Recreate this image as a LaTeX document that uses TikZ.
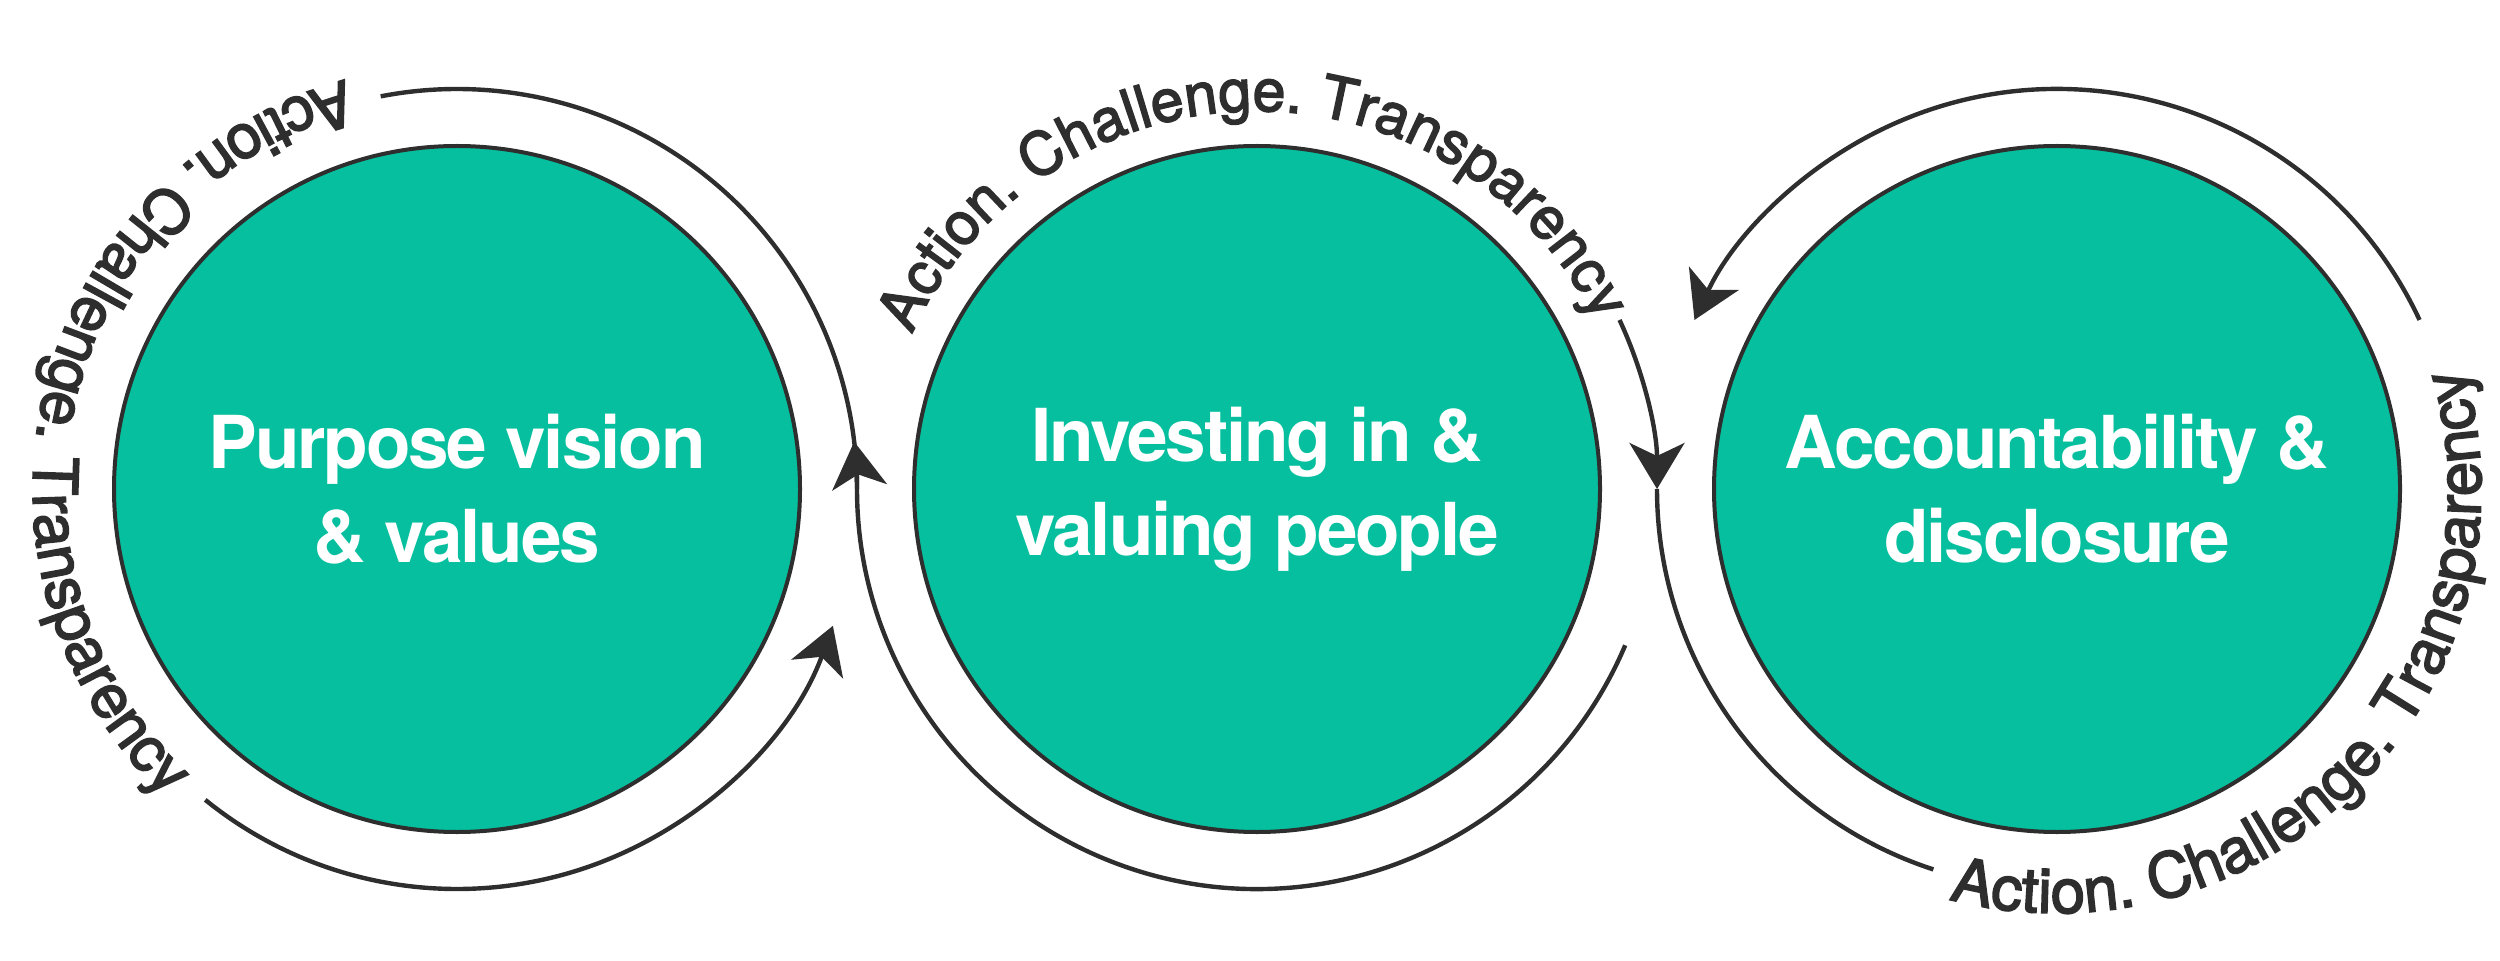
\documentclass[tikz,border=0pt]{standalone}
\usepackage{fontspec}
\setmainfont{TeX Gyre Heros}
\newfontfamily\circfont[LetterSpace=-3]{TeX Gyre Heros}
\newfontfamily\ringfont[FakeBold=2.6]{TeX Gyre Heros}
\usetikzlibrary{arrows.meta,decorations.text,calc}
\definecolor{teal1}{HTML}{06BF9F}
\definecolor{ink}{HTML}{2E2E2E}
\tikzset{
  disc/.style={circle, fill=teal1, draw=ink, line width=2pt, minimum size=343pt,
    inner sep=0pt, align=center, text=white,
    font=\circfont\bfseries\fontsize{36.5}{47}\selectfont},
  ring/.style={draw=ink, line width=2.2pt},
  tip/.style={-{Stealth[length=23pt,width=27.5pt,inset=6.5pt]}},
  ringtext/.style={decorate, decoration={text along path, text align=center,
    text color=ink, text={|\ringfont\fontsize{#1}{#1}\selectfont|Action. Challenge. Transparency}}}
}
\begin{document}
\begin{tikzpicture}[x=0.5pt,y=0.5pt]
\useasboundingbox (0,0) rectangle (2500,960);
\node[disc] (c1) at (457,471) {Purpose vision\\\& values};
\node[disc] (c2) at (1257,471) {Investing in \&\\valuing people};
\node[disc] (c3) at (2057,471) {Accountability \&\\disclosure};
\coordinate (t12) at ($(c1.center)+(0:400)$);
\coordinate (t23) at ($(c2.center)+(0:400)$);
\coordinate (a2) at ($(c2.center)+(-23:400)$);
\coordinate (a1) at ($(c1.center)+(231:400)$);
\coordinate (b2) at ($(c2.center)+(25:400)$);
\coordinate (b3) at ($(c3.center)+(25:400)$);
% ring around circle 2 (bottom) continuing round circle 1 (top)
\draw[ring] (a2) arc[start angle=-23, end angle=-180, radius=400]
  arc[start angle=0, end angle=101, radius=400];
\draw[ring, tip] (t12) arc[start angle=0, end angle=6.8, radius=400];
% lower ring of circle 1
\draw[ring, tip] (a1) arc[start angle=231, end angle=340, radius=400];
% ring from circle 2 into circle 3
\draw[ring, tip] (b2) arc[start angle=25, end angle=0, radius=400];
\draw[ring] (t23) arc[start angle=180, end angle=252, radius=400];
% upper ring of circle 3
\draw[ring, tip] (b3) arc[start angle=25, end angle=155, radius=400];
% ring texts
\path[ringtext=31] ($(c1.center)+(76:424)$) arc[start angle=76, end angle=256, radius=424];
\path[ringtext=29.5] ($(c2.center)+(171:378)$) arc[start angle=171, end angle=11, radius=378];
\path[ringtext=31] ($(c3.center)+(226:424)$) arc[start angle=226, end angle=406, radius=424];
\end{tikzpicture}
\end{document}
